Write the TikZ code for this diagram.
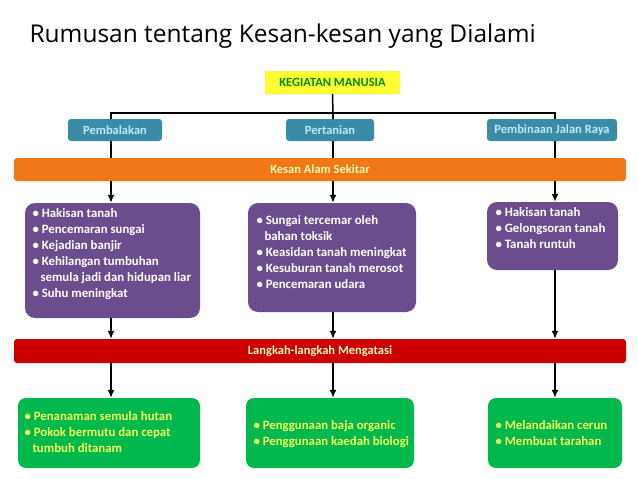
\documentclass[tikz,border=0pt]{standalone}
\usepackage{fontspec}
\setmainfont{Carlito}
\newfontfamily\titlefont{Open Sans}
\usetikzlibrary{arrows.meta}
\definecolor{teal1}{HTML}{3A8CA6}
\definecolor{orng}{HTML}{F07818}
\definecolor{purp}{HTML}{6B4C8C}
\definecolor{redb}{HTML}{CC0000}
\definecolor{grn}{HTML}{00B84C}
\definecolor{ylw}{HTML}{FFFF33}
\definecolor{ytext}{HTML}{F4FF5A}
\begin{document}
\begin{tikzpicture}[x=1pt,y=-1pt,
  box/.style={rounded corners=5pt,draw=none,inner sep=0pt},
  lbl/.style={font=\fontsize{12.5}{14}\selectfont\bfseries},
  lst/.style={font=\fontsize{12.8}{16}\selectfont\bfseries,align=left,anchor=north west},
  conn/.style={line width=1.5pt},
  arr/.style={line width=1.5pt,-{Latex[length=8pt,width=7pt]}}]
\useasboundingbox (0,0) rectangle (638,479);
\fill[white] (0,0) rectangle (638,479);
\node[anchor=west,font=\titlefont\fontsize{24.5}{27}\selectfont] (title) at (26,36) {Rumusan tentang Kesan-kesan yang Dialami};
% top
\node[box,fill=ylw,draw=gray!40,minimum width=135pt,minimum height=23pt,rounded corners=2pt,text=green!55!black,lbl] (km) at (332.5,82.5) {KEGIATAN MANUSIA};
\coordinate (jl) at (111,113); \coordinate (jm) at (333,113); \coordinate (jr) at (555,113);
\node[box,fill=teal1,rounded corners=3pt,minimum width=94pt,minimum height=22pt,text=cyan!25,lbl] (pb) at (115,130) {Pembalakan};
\node[box,fill=teal1,rounded corners=3pt,minimum width=88pt,minimum height=22pt,text=cyan!25,lbl] (pt) at (330,130) {Pertanian};
\node[box,fill=teal1,rounded corners=3pt,minimum width=130pt,minimum height=22pt,text=cyan!25,lbl] (pj) at (552,130) {Pembinaan Jalan Raya};
\draw[conn] (km.south) -- (jm);
\draw[conn] (pb.north -| jl) -- (jl) -- (jr) -- (pj.north -| jr);
\draw[conn] (jm) -- (pt.north -| jm);
\node[box,fill=orng,rounded corners=3pt,minimum width=612pt,minimum height=23pt,text=yellow!30,lbl] (ks) at (320,169.5) {Kesan Alam Sekitar};
\draw[conn] (pb.south -| jl) -- (ks.north -| jl);
\draw[conn] (pt.south -| jm) -- (ks.north -| jm);
\draw[conn] (pj.south -| jr) -- (ks.north -| jr);
% purple
\node[box,fill=purp,rounded corners=10pt,minimum width=175pt,minimum height=115pt] (p1) at (112.5,260.5) {};
\node[box,fill=purp,rounded corners=10pt,minimum width=168pt,minimum height=109pt] (p2) at (332,257.5) {};
\node[box,fill=purp,rounded corners=10pt,minimum width=131pt,minimum height=68pt] (p3) at (552.5,236) {};
\node[lst,text=white] (t1) at (29,205) {• Hakisan tanah\\• Pencemaran sungai\\• Kejadian banjir\\• Kehilangan tumbuhan\\\hspace*{8pt}semula jadi dan hidupan liar\\• Suhu meningkat};
\node[lst,text=white] (t2) at (253,212) {• Sungai tercemar oleh\\\hspace*{8pt}bahan toksik\\• Keasidan tanah meningkat\\• Kesuburan tanah merosot\\• Pencemaran udara};
\node[lst,text=white] (t3) at (492,204) {• Hakisan tanah\\• Gelongsoran tanah\\• Tanah runtuh};
\draw[arr] (ks.south -| jl) -- (p1.north -| jl);
\draw[arr] (ks.south -| jm) -- (p2.north -| jm);
\draw[arr] (ks.south -| jr) -- (p3.north -| jr);
% red
\node[box,fill=redb,rounded corners=3pt,minimum width=612pt,minimum height=24pt,text=yellow!25,lbl] (lm) at (320,351) {Langkah-langkah Mengatasi};
\draw[arr] (p1.south -| jl) -- (lm.north -| jl);
\draw[arr] (p2.south -| jm) -- (lm.north -| jm);
\draw[arr] (p3.south -| jr) -- (lm.north -| jr);
% green
\node[box,fill=grn,rounded corners=8pt,minimum width=182pt,minimum height=70pt] (g1) at (109,433) {};
\node[box,fill=grn,rounded corners=8pt,minimum width=168pt,minimum height=70pt] (g2) at (330,433) {};
\node[box,fill=grn,rounded corners=8pt,minimum width=134pt,minimum height=70pt] (g3) at (555,433) {};
\node[lst,text=ytext] (u1) at (21,408) {• Penanaman semula hutan\\• Pokok bermutu dan cepat\\\hspace*{8pt}tumbuh ditanam};
\node[lst,text=ytext] (u2) at (250,417) {• Penggunaan baja organic\\• Penggunaan kaedah biologi};
\node[lst,text=ytext] (u3) at (492,417) {• Melandaikan cerun\\• Membuat tarahan};
\draw[arr] (lm.south -| jl) -- (g1.north -| jl);
\draw[arr] (lm.south -| jm) -- (g2.north -| jm);
\draw[arr] (lm.south -| jr) -- (g3.north -| jr);
\end{tikzpicture}
\end{document}
